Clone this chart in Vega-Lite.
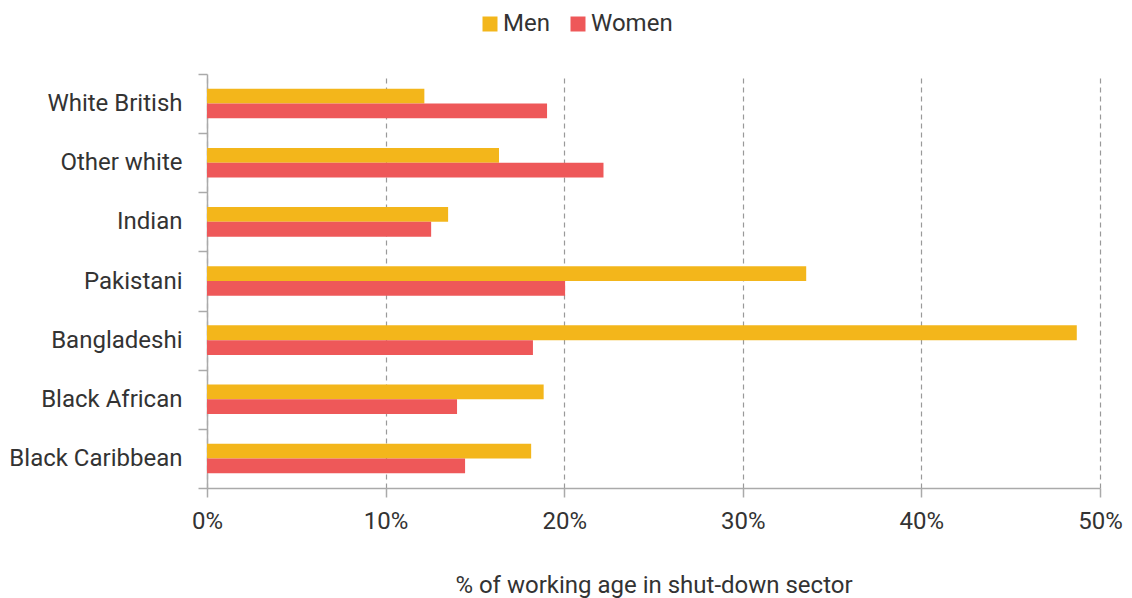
{
  "$schema": "https://vega.github.io/schema/vega-lite/v6.json",
  "width": 893,
  "height": 414,
  "autosize": {"type": "none"},
  "padding": {"left": 207, "top": 74, "right": 32, "bottom": 110},
  "background": "white",
  "config": {
    "view": {"stroke": null},
    "font": "Roboto",
    "axis": {"labelFont": "Roboto", "titleFont": "Roboto", "labelColor": "#333333", "titleColor": "#333333"}
  },
  "data": {
    "values": [
      {"group": "White British", "sex": "Men", "value": 0.1217},
      {"group": "White British", "sex": "Women", "value": 0.1904},
      {"group": "Other white", "sex": "Men", "value": 0.1635},
      {"group": "Other white", "sex": "Women", "value": 0.2220},
      {"group": "Indian", "sex": "Men", "value": 0.1350},
      {"group": "Indian", "sex": "Women", "value": 0.1255},
      {"group": "Pakistani", "sex": "Men", "value": 0.3355},
      {"group": "Pakistani", "sex": "Women", "value": 0.2005},
      {"group": "Bangladeshi", "sex": "Men", "value": 0.4870},
      {"group": "Bangladeshi", "sex": "Women", "value": 0.1825},
      {"group": "Black African", "sex": "Men", "value": 0.1885},
      {"group": "Black African", "sex": "Women", "value": 0.1400},
      {"group": "Black Caribbean", "sex": "Men", "value": 0.1815},
      {"group": "Black Caribbean", "sex": "Women", "value": 0.1445}
    ]
  },
  "mark": {"type": "bar"},
  "encoding": {
    "y": {
      "field": "group",
      "type": "nominal",
      "sort": ["White British", "Other white", "Indian", "Pakistani", "Bangladeshi", "Black African", "Black Caribbean"],
      "scale": {"paddingInner": 0, "paddingOuter": 0},
      "axis": {
        "title": null,
        "tickBand": "extent",
        "tickSize": 9,
        "tickColor": "#aaaaaa",
        "tickWidth": 1.5,
        "domainColor": "#aaaaaa",
        "domainWidth": 1.5,
        "labelPadding": 16,
        "labelFontSize": 24,
        "grid": false
      }
    },
    "yOffset": {"field": "sex", "type": "nominal", "sort": ["Men", "Women"], "scale": {"paddingInner": 0, "paddingOuter": 1}},
    "x": {
      "field": "value",
      "type": "quantitative",
      "scale": {"domain": [0, 0.5], "nice": false},
      "axis": {
        "title": "% of working age in shut-down sector",
        "format": ".0%",
        "values": [0, 0.1, 0.2, 0.3, 0.4, 0.5],
        "labelFlush": false,
        "tickSize": 9,
        "tickColor": "#aaaaaa",
        "tickWidth": 1.5,
        "domainColor": "#aaaaaa",
        "domainWidth": 1.5,
        "labelPadding": 12,
        "labelFontSize": 24,
        "titleFontSize": 24,
        "titleFontWeight": "normal",
        "titlePadding": 40,
        "grid": true,
        "gridDash": [5, 4],
        "gridColor": "#999999",
        "gridWidth": 1.2
      }
    },
    "color": {
      "field": "sex",
      "type": "nominal",
      "scale": {"domain": ["Men", "Women"], "range": ["#F3B61B", "#EE5859"]},
      "legend": {
        "title": null,
        "orient": "none",
        "direction": "horizontal",
        "legendX": 271,
        "legendY": -62,
        "symbolType": "square",
        "symbolSize": 225,
        "symbolStrokeWidth": 0,
        "labelFontSize": 24,
        "labelColor": "#333333",
        "labelFont": "Roboto",
        "columnPadding": 16,
        "labelOffset": 1
      }
    }
  }
}
